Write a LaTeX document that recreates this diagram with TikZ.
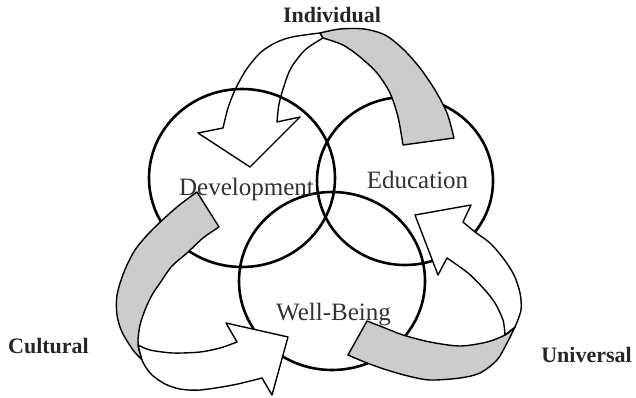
\documentclass[tikz,border=0pt]{standalone}
\usepackage{fontspec}
\setmainfont{Liberation Serif}
\definecolor{bandgray}{RGB}{204,204,204}
\definecolor{txt}{RGB}{50,50,50}
\begin{document}
\begin{tikzpicture}[x=1pt,y=-1pt,
  ring/.style={line width=2.6pt},
  whiteband/.style={line width=1.4pt, line join=round, fill=white},
  grayband/.style={line width=1.4pt, line join=round, fill=bandgray},
  ringlabel/.style={anchor=base, inner sep=0pt, font=\fontsize{25}{25}\selectfont, text=txt},
  sidelabel/.style={anchor=base, inner sep=0pt, font=\fontsize{22}{22}\selectfont\bfseries, text=black!85}]
\useasboundingbox (0,0) rectangle (636,398);

% Individual arrow, white part (circles show through it)
\draw[band/.style={},whiteband, fill=none]
  (223,128) -- plot[smooth] coordinates {(223,128) (228,108) (235,90) (246,70) (260,53) (275,43) (292,37) (320,33)}
  -- (323,38)
  -- plot[smooth] coordinates {(323,38) (305,50) (291,68) (284,86) (279,104) (277,122)}
  -- (300,117) -- (250,167) -- (198,133) -- cycle;

% circles
\draw[ring] (242,178) ellipse [x radius=93, y radius=89];
\draw[ring] (405,181) ellipse [x radius=88, y radius=84];
\draw[ring] (332,281) ellipse [x radius=93, y radius=89];

% texts
\node[ringlabel] (dev) at (246.5,195) {Development};
\node[ringlabel] (edu) at (417.5,188) {Education};
\node[ringlabel] (wb) at (333.5,320) {Well-Being};
\node[sidelabel] (ind) at (332,23) {Individual};
\node[sidelabel] (cul) at (48.5,353) {Cultural};
\node[sidelabel] (uni) at (586.5,362) {Universal};

% Individual arrow, gray part
\draw[grayband]
  (320,33) -- plot[smooth] coordinates {(320,33) (340,29) (364,29) (385,35) (403,49) (420,68) (435,90) (447,113) (454,138)}
  -- (403,145)
  -- plot[smooth] coordinates {(403,145) (398,117) (390,93) (377,73) (360,57) (343,45) (323,38)}
  -- cycle;

% Cultural arrow
\draw[grayband]
  (197,192) -- plot[smooth] coordinates {(197,192) (177,207) (152,230) (135,250) (124,272) (117,295) (117,315) (122,332) (133,350) (142,360)}
  -- plot[smooth] coordinates {(142,360) (139,350) (138,340) (140,325) (145,310) (152,295) (160,283) (172,266) (187,253) (203,238) (219,227)}
  -- cycle;
\draw[whiteband]
  (138,345) -- plot[smooth] coordinates {(138,345) (150,350) (173,353) (200,352) (220,348) (237,342)}
  -- (226,323) -- (288,337) -- (272,395) -- (262,378)
  -- plot[smooth] coordinates {(262,378) (233,385) (200,390) (180,389) (165,384) (152,375) (145,366) (142,360)}
  -- cycle;

% Universal arrow
\draw[grayband]
  (367,321) -- plot[smooth] coordinates {(367,321) (385,328) (403,335) (430,342) (460,346) (487,342) (505,335) (515,327)}
  -- plot[smooth] coordinates {(515,327) (507,343) (497,360) (480,373) (460,378) (430,380) (408,376) (387,370) (367,363) (348,355)}
  -- cycle;
\draw[whiteband]
  (505,335) -- plot[smooth] coordinates {(505,335) (503,320) (495,303) (484,289) (468,273) (447,258)}
  -- (438,275) -- (415,215) -- (471,205) -- (463,222)
  -- plot[smooth] coordinates {(463,222) (475,232) (490,243) (503,258) (514,275) (520,293) (521,310) (515,327)}
  -- cycle;
\end{tikzpicture}
\end{document}
